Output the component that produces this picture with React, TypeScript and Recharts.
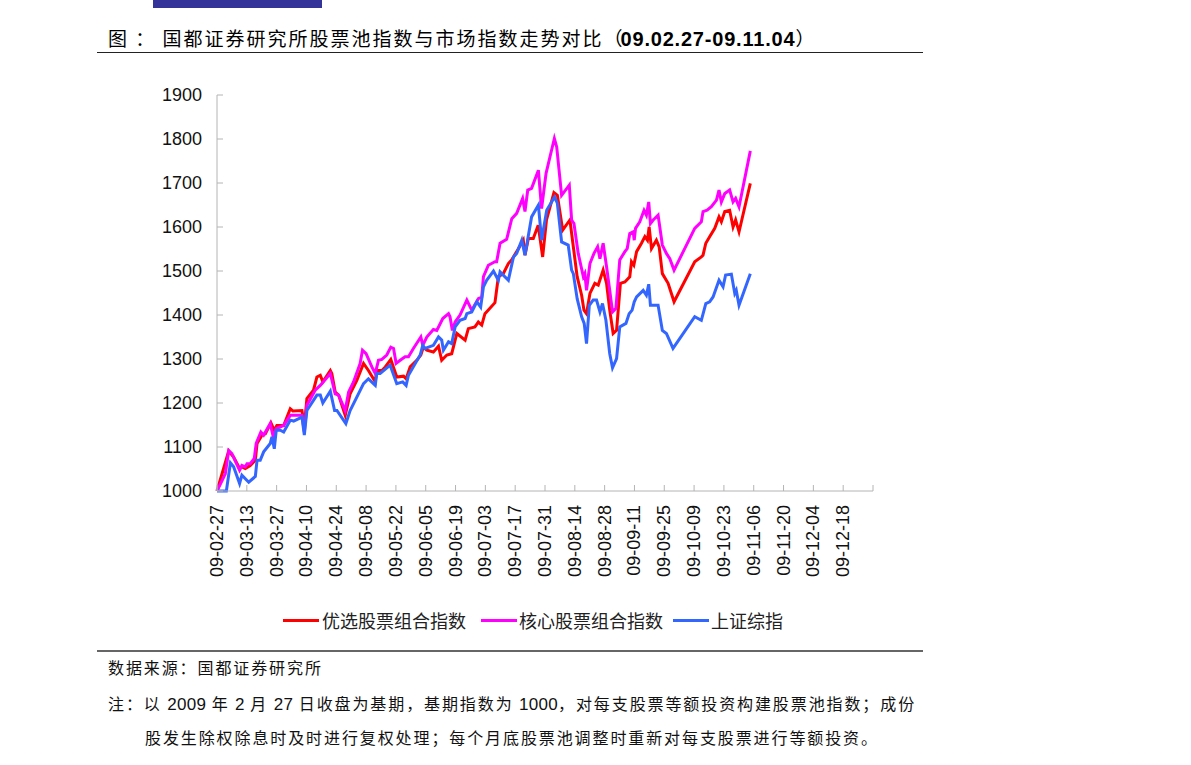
import { LineChart, Line, XAxis, YAxis } from "recharts";

// x values are calendar days counted from 2009-02-27 (base day)
const dateLabels = [
  "09-02-27", "09-03-13", "09-03-27", "09-04-10", "09-04-24", "09-05-08",
  "09-05-22", "09-06-05", "09-06-19", "09-07-03", "09-07-17", "09-07-31",
  "09-08-14", "09-08-28", "09-09-11", "09-09-25", "09-10-09", "09-10-23",
  "09-11-06", "09-11-20", "09-12-04", "09-12-18",
];
const xTicks = [0, 14, 28, 42, 56, 70, 84, 98, 112, 126, 140, 154, 168, 182, 196, 210, 224, 238, 252, 266, 280, 294, 308];
const yTicks = [1000, 1100, 1200, 1300, 1400, 1500, 1600, 1700, 1800, 1900];

const seriesNames = ["优选股票组合指数", "核心股票组合指数", "上证综指"];
const seriesColors = ["#ff0000", "#ff00ff", "#3366ff"];

// 优选股票组合指数 [day, index]
const youxuan: [number, number][] = [
  [0, 1000], [5.5, 1091], [7.8, 1077], [10.6, 1051], [11.7, 1055], [13.3, 1051], [15.6, 1058],
  [18.0, 1070], [18.8, 1108], [21.1, 1127], [22.7, 1130], [25.3, 1155], [26.9, 1138], [28.1, 1149],
  [31.3, 1149], [34.4, 1187], [35.6, 1182], [39.9, 1183], [41.0, 1146], [42.2, 1210], [45.3, 1229],
  [46.9, 1259], [48.5, 1263], [49.7, 1248], [53.2, 1274], [53.9, 1267], [55.5, 1225], [57.1, 1218],
  [60.2, 1172], [62.5, 1221], [65.7, 1252], [68.8, 1290], [71.1, 1274], [74.3, 1248], [75.0, 1274],
  [77.4, 1274], [79.0, 1282], [81.6, 1299], [84.4, 1259], [87.6, 1261], [88.8, 1255], [90.7, 1282],
  [93.8, 1297], [95.7, 1309], [96.9, 1327], [98.5, 1320], [101.6, 1316], [104.0, 1329], [105.5, 1297],
  [107.9, 1309], [110.2, 1312], [112.6, 1358], [116.5, 1343], [118.0, 1369], [121.1, 1373], [122.7, 1384],
  [124.3, 1377], [125.8, 1403], [130.5, 1428], [132.1, 1487], [134.4, 1494], [136.8, 1517], [138.3, 1525],
  [140.7, 1544], [143.8, 1570], [144.6, 1536], [146.2, 1574], [148.5, 1574], [150.8, 1604], [152.9, 1532],
  [154.7, 1616], [158.2, 1678], [159.8, 1672], [162.3, 1593], [165.7, 1616], [167.3, 1555], [169.1, 1487],
  [171.2, 1445], [172.3, 1411], [173.5, 1403], [175.1, 1449], [177.4, 1472], [179.0, 1468], [181.3, 1502],
  [182.9, 1472], [184.4, 1411], [186.0, 1358], [187.6, 1365], [189.4, 1472], [191.5, 1475], [193.8, 1487],
  [194.6, 1521], [195.7, 1513], [197.0, 1544], [199.3, 1563], [200.9, 1578], [202.1, 1570], [202.9, 1600],
  [204.0, 1551], [206.3, 1570], [207.6, 1555], [209.1, 1494], [211.8, 1472], [214.6, 1430], [224.3, 1521],
  [227.4, 1532], [228.2, 1536], [229.5, 1563], [231.3, 1578], [233.7, 1597], [235.7, 1623], [236.8, 1612],
  [238.4, 1635], [240.7, 1638], [242.3, 1600], [243.5, 1616], [245.1, 1589], [246.2, 1612], [250.4, 1699],
];

// 核心股票组合指数 [day, index]
const hexin: [number, number][] = [
  [0, 1000], [3.9, 1039], [5.5, 1092], [7.0, 1085], [10.6, 1047], [11.7, 1058], [13.3, 1055], [14.1, 1062],
  [15.6, 1062], [17.5, 1074], [18.4, 1108], [20.6, 1134], [21.9, 1127], [25.0, 1153], [26.6, 1119],
  [27.8, 1142], [31.3, 1149], [34.4, 1172], [39.9, 1172], [41.0, 1134], [42.2, 1195], [46.1, 1229],
  [48.5, 1240], [53.2, 1267], [55.5, 1221], [57.1, 1218], [60.2, 1183], [61.8, 1225], [64.1, 1248],
  [67.2, 1290], [68.3, 1320], [70.0, 1312], [72.7, 1282], [74.3, 1267], [75.8, 1297], [77.4, 1299],
  [79.7, 1309], [81.6, 1327], [82.9, 1324], [84.1, 1290], [86.0, 1297], [88.3, 1305], [89.9, 1305],
  [92.2, 1324], [95.7, 1350], [96.6, 1331], [98.5, 1350], [101.6, 1367], [103.2, 1365], [106.0, 1392],
  [108.7, 1403], [109.4, 1396], [110.5, 1365], [111.8, 1384], [114.1, 1400], [117.3, 1434], [119.6, 1411],
  [122.7, 1437], [124.3, 1441], [125.1, 1487], [127.4, 1513], [130.5, 1521], [131.3, 1521], [132.9, 1563],
  [136.0, 1572], [138.4, 1619], [140.7, 1631], [143.5, 1665], [144.6, 1635], [145.9, 1684], [147.7, 1688],
  [150.9, 1729], [152.4, 1642], [154.5, 1722], [157.1, 1775], [158.4, 1801], [159.5, 1782], [161.8, 1672],
  [165.4, 1695], [166.5, 1616], [167.6, 1608], [169.6, 1540], [172.0, 1487], [172.7, 1494], [173.5, 1456],
  [175.1, 1517], [177.0, 1540], [178.7, 1555], [179.8, 1528], [181.3, 1563], [182.9, 1510], [184.4, 1456],
  [185.7, 1407], [187.3, 1415], [189.1, 1525], [191.5, 1544], [192.6, 1551], [193.8, 1585], [195.4, 1589],
  [195.9, 1570], [196.5, 1597], [198.5, 1612], [200.5, 1638], [201.6, 1627], [202.7, 1657], [203.5, 1608],
  [204.8, 1616], [207.1, 1627], [209.1, 1559], [211.0, 1540], [212.6, 1528], [214.6, 1502], [224.3, 1597],
  [227.4, 1612], [228.2, 1635], [230.1, 1638], [232.1, 1646], [234.5, 1661], [235.7, 1684], [236.8, 1657],
  [238.4, 1676], [240.7, 1684], [242.3, 1657], [243.5, 1665], [245.1, 1646], [246.2, 1672], [250.4, 1773],
];

// 上证综指 [day, index]
const shangzheng: [number, number][] = [
  [0, 1000], [4.4, 1000], [6.3, 1064], [7.8, 1055], [10.6, 1017], [11.7, 1036], [14.1, 1024], [14.9, 1020],
  [18.0, 1033], [18.8, 1070], [20.3, 1070], [21.9, 1089], [25.0, 1108], [25.8, 1123], [26.9, 1096],
  [27.8, 1138], [29.7, 1138], [31.3, 1134], [34.4, 1161], [36.0, 1159], [39.9, 1168], [41.0, 1127],
  [42.2, 1183], [46.9, 1218], [48.5, 1218], [49.7, 1200], [53.2, 1227], [55.2, 1183], [56.3, 1183],
  [60.5, 1153], [62.5, 1183], [68.8, 1244], [71.1, 1255], [74.3, 1240], [75.0, 1267], [76.6, 1267],
  [81.3, 1286], [84.4, 1244], [87.2, 1248], [88.8, 1240], [89.9, 1263], [95.4, 1309], [96.6, 1331],
  [97.7, 1324], [101.6, 1331], [104.0, 1350], [105.5, 1343], [106.3, 1320], [108.7, 1339], [110.2, 1335],
  [111.8, 1373], [114.1, 1388], [116.5, 1392], [117.3, 1403], [119.6, 1407], [122.0, 1430], [123.8, 1418],
  [125.1, 1464], [126.6, 1479], [129.8, 1500], [132.1, 1479], [132.9, 1498], [136.8, 1479], [139.2, 1532],
  [140.7, 1540], [143.1, 1570], [144.6, 1536], [147.7, 1623], [150.9, 1650], [152.4, 1570], [154.8, 1638],
  [158.5, 1668], [159.8, 1654], [161.8, 1566], [164.9, 1559], [166.5, 1502], [167.3, 1494], [169.1, 1437],
  [171.2, 1396], [172.4, 1381], [173.5, 1335], [174.8, 1422], [176.6, 1434], [178.2, 1434], [179.8, 1407],
  [181.0, 1426], [182.6, 1388], [184.4, 1312], [185.7, 1280], [187.6, 1301], [189.1, 1373], [192.0, 1381],
  [193.5, 1403], [194.9, 1411], [195.9, 1430], [197.0, 1441], [200.1, 1456], [201.6, 1445], [202.7, 1470],
  [203.5, 1422], [207.1, 1422], [209.1, 1365], [211.0, 1358], [214.1, 1324], [224.3, 1396], [227.4, 1388],
  [229.5, 1426], [231.3, 1430], [232.9, 1441], [235.7, 1479], [237.6, 1464], [238.8, 1491], [241.5, 1493],
  [243.1, 1449], [243.8, 1456], [245.1, 1422], [250.4, 1494],
];

const seriesData = [youxuan, hexin, shangzheng].map((s) =>
  s.map(([day, v]) => ({ day, v }))
);

const NUM_FONT = '"Liberation Sans", Arial, sans-serif';
const CJK_FONT = '"Noto Sans CJK SC", sans-serif';
const AXIS_GRAY = "#b4b4b4";

const XTick = ({ x, y, payload }: any) => {
  const label = dateLabels[Math.round(payload.value / 14)] ?? "";
  const ly = y + 14;
  return (
    <g>
      <line x1={x} y1={y} x2={x} y2={y - 6} stroke={AXIS_GRAY} />
      {label && (
        <text
          x={x}
          y={ly}
          transform={`rotate(-90 ${x} ${ly})`}
          textAnchor="end"
          dominantBaseline="central"
          fontSize={18}
          fontFamily={NUM_FONT}
          fill="#111"
        >
          {label}
        </text>
      )}
    </g>
  );
};

const YTick = ({ x, y, payload }: any) => (
  <g>
    <line x1={x} y1={y} x2={x + 6} y2={y} stroke={AXIS_GRAY} />
    <text
      x={x - 15}
      y={y}
      textAnchor="end"
      dominantBaseline="central"
      fontSize={18}
      fontFamily={NUM_FONT}
      fill="#111"
    >
      {payload.value}
    </text>
  </g>
);

const legendPos = [
  { line: 283, text: 322 },
  { line: 481, text: 519 },
  { line: 673, text: 711 },
];

const footStyle = {
  position: "absolute" as const,
  fontSize: 16,
  lineHeight: "22px",
  letterSpacing: 1.9,
  fontFamily: CJK_FONT,
  color: "#111",
  whiteSpace: "nowrap" as const,
};

const Num = ({ children }: { children: string }) => (
  <span style={{ fontFamily: NUM_FONT, fontSize: 17, letterSpacing: 0.3 }}>{children}</span>
);

export default function App() {
  return (
    <div style={{ position: "absolute", left: 0, top: 0, width: 1191, height: 765, background: "#fff" }}>
      <div style={{ position: "absolute", left: 153, top: 0, width: 169, height: 8, background: "#333399" }} />

      <div
        style={{
          position: "absolute",
          left: 108,
          top: 27,
          lineHeight: "22px",
          fontSize: 19,
          letterSpacing: 2,
          fontFamily: CJK_FONT,
          color: "#000",
          whiteSpace: "nowrap",
        }}
      >
        图 ： 国都证券研究所股票池指数与市场指数走势对比<span style={{ letterSpacing: -2 }}>（</span>
        <span style={{ fontFamily: NUM_FONT, fontWeight: "bold", fontSize: 20, letterSpacing: 0.8 }}>09.02.27-09.11.04</span>）
      </div>
      <div style={{ position: "absolute", left: 97, top: 52, width: 826, height: 1, background: "#222" }} />

      <div style={{ position: "absolute", left: 0, top: 0 }}>
        <LineChart
          width={1191}
          height={765}
          margin={{ top: 95, right: 318, left: 157, bottom: 174 }}
        >
          <XAxis
            type="number"
            dataKey="day"
            domain={[0, 308]}
            ticks={xTicks}
            interval={0}
            height={100}
            tickSize={0}
            tickMargin={0}
            tickLine={false}
            axisLine={{ stroke: AXIS_GRAY }}
            tick={<XTick />}
            allowDuplicatedCategory={false}
          />
          <YAxis
            type="number"
            domain={[1000, 1900]}
            ticks={yTicks}
            interval={0}
            width={60}
            tickSize={0}
            tickMargin={0}
            tickLine={false}
            axisLine={{ stroke: AXIS_GRAY }}
            tick={<YTick />}
          />
          {seriesData.map((d, i) => (
            <Line
              key={seriesNames[i]}
              data={d}
              dataKey="v"
              name={seriesNames[i]}
              type="linear"
              stroke={seriesColors[i]}
              strokeWidth={3}
              dot={false}
              activeDot={false}
              isAnimationActive={false}
            />
          ))}
        </LineChart>
      </div>

      {seriesNames.map((name, i) => (
        <div key={name}>
          <div
            style={{
              position: "absolute",
              left: legendPos[i].line,
              top: 619,
              width: 36,
              height: 3,
              background: seriesColors[i],
            }}
          />
          <div
            style={{
              position: "absolute",
              left: legendPos[i].text,
              top: 608,
              lineHeight: "24px",
              fontSize: 18,
              fontFamily: CJK_FONT,
              color: "#222",
              whiteSpace: "nowrap",
            }}
          >
            {name}
          </div>
        </div>
      ))}

      <div style={{ position: "absolute", left: 97, top: 650, width: 826, height: 2, background: "#666" }} />

      <div style={{ ...footStyle, left: 108, top: 656 }}>数据来源：国都证券研究所</div>
      <div style={{ ...footStyle, left: 108, top: 692 }}>
        注：以 <Num>2009</Num> 年 <Num>2</Num> 月 <Num>27</Num> 日收盘为基期，基期指数为 <Num>1000</Num>，对每支股票等额投资构建股票池指数；成份
      </div>
      <div style={{ ...footStyle, left: 145, top: 726 }}>
        股发生除权除息时及时进行复权处理；每个月底股票池调整时重新对每支股票进行等额投资。
      </div>
    </div>
  );
}
